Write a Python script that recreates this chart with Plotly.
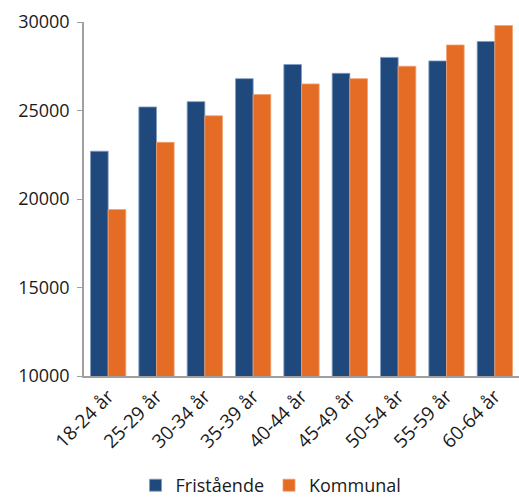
import plotly.graph_objects as go

categories = ["18-24 år", "25-29 år", "30-34 år", "35-39 år", "40-44 år",
              "45-49 år", "50-54 år", "55-59 år", "60-64 år"]
fristaende = [22700, 25200, 25500, 26800, 27600, 27100, 28000, 27800, 28900]
kommunal = [19400, 23200, 24700, 25900, 26500, 26800, 27500, 28700, 29800]

BLUE = "#1F497D"
ORANGE = "#E46C25"
AXIS = "#A0A0A0"

fig = go.Figure()
fig.add_trace(go.Bar(x=categories, y=fristaende, name="Fristående",
                     marker=dict(color=BLUE, line=dict(color="#7f9cc4", width=0.8))))
fig.add_trace(go.Bar(x=categories, y=kommunal, name="Kommunal",
                     marker=dict(color=ORANGE, line=dict(color="#f0a070", width=0.8))))

fig.update_layout(
    width=519, height=504,
    margin=dict(l=84, r=0, t=22, b=128),
    plot_bgcolor="white", paper_bgcolor="white",
    font=dict(family="Open Sans", size=18, color="#1a1a1a"),
    barmode="group", bargap=0.27, bargroupgap=0,
    showlegend=True,
    legend=dict(orientation="h", x=0.43, xanchor="center",
                yref="container", y=-0.008, yanchor="bottom",
                bgcolor="rgba(0,0,0,0)",
                font=dict(size=18), itemwidth=30, tracegroupgap=0),
    xaxis=dict(showline=True, linecolor=AXIS, linewidth=1.5, tickangle=-45,
               ticks="", showgrid=False, tickfont=dict(size=19), automargin=False),
    yaxis=dict(range=[10000, 30000], dtick=5000, tickformat="d", showline=True,
               linecolor=AXIS, linewidth=1.5, ticks="outside", ticklen=5, tickcolor=AXIS,
               showgrid=False, zeroline=False, ticklabelstandoff=4, automargin=False),
)

# drop the default 8px body margin so the figure fills the window
fig.write_html("out.html", config={"displayModeBar": False},
               post_script="document.body.style.margin = '0';")
